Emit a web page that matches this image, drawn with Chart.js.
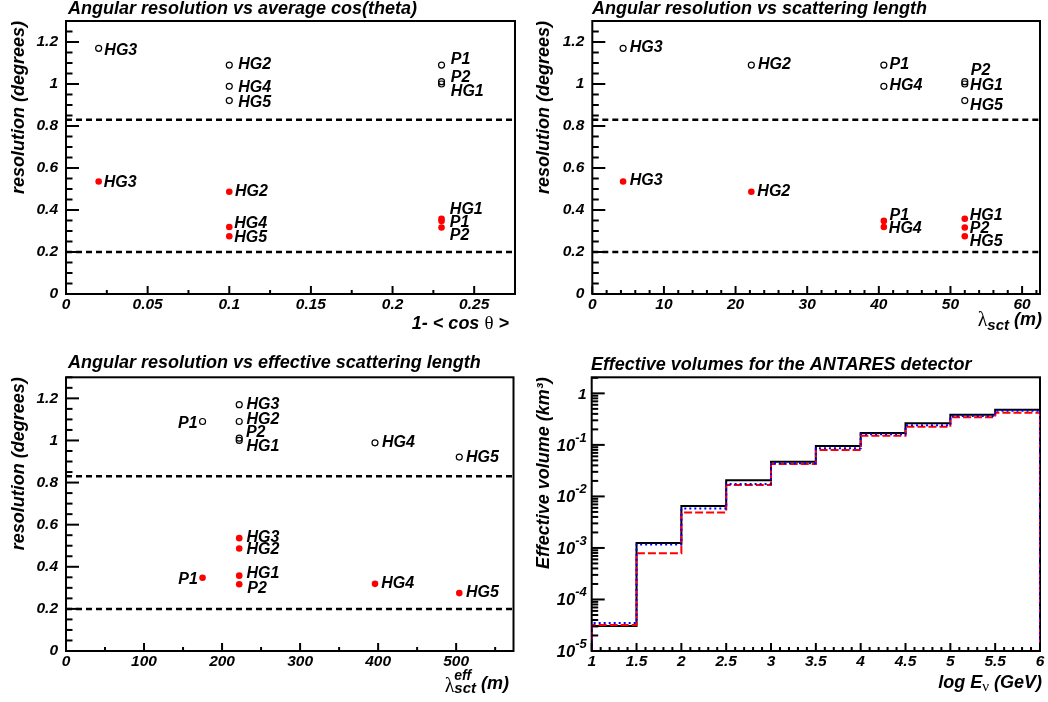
<!DOCTYPE html>
<html>
<head>
<meta charset="utf-8">
<script src="https://cdn.jsdelivr.net/npm/chart.js@4.4.1/dist/chart.umd.min.js"></script>
<style>
  html, body { margin: 0; padding: 0; background: #fff; overflow: hidden; }
  #page { position: relative; width: 1048px; height: 702px; }
  #page canvas { position: absolute; }
</style>
</head>
<body>
<div id="page">
  <canvas id="cosChart" width="524" height="345" style="left:0;top:0"></canvas>
  <canvas id="sctChart" width="524" height="345" style="left:524px;top:0"></canvas>
  <canvas id="effChart" width="524" height="357" style="left:0;top:345px"></canvas>
  <canvas id="volChart" width="524" height="357" style="left:524px;top:345px"></canvas>
</div>
<script>
// ---- data ----
const detectors = ['HG1', 'HG2', 'HG3', 'HG4', 'HG5', 'P1', 'P2']
const resAll = [1.00, 1.09, 1.17, 0.989, 0.921, 1.09, 1.011]      // open circles
const resCut = [0.358, 0.487, 0.536, 0.319, 0.275, 0.348, 0.317]  // red dots
const oneMinusCos = [0.23, 0.10, 0.02, 0.10, 0.10, 0.23, 0.23]
const lambdaSct = [52, 22.2, 4.3, 40.7, 52, 40.7, 52]
const lambdaEff = [222, 222, 222, 396, 504, 175, 222]
const cutLevels = [0.83, 0.2]

const logEEdges = [1, 1.5, 2, 2.5, 3, 3.5, 4, 4.5, 5, 5.5, 6]
const veffBlack = [3.05e-5, 1.25e-3, 6.5e-3, 0.0205, 0.047, 0.095, 0.170, 0.262, 0.385, 0.481]
const veffBlue = [3.5e-5, 1.17e-3, 5.8e-3, 0.0175, 0.044, 0.086, 0.160, 0.240, 0.363, 0.459]
const veffRed = [3.2e-5, 7.9e-4, 4.9e-3, 0.0166, 0.0425, 0.080, 0.151, 0.225, 0.342, 0.421]

const resTicks = [0, 0.2, 0.4, 0.6, 0.8, 1, 1.2]
const cosTicks = [0, 0.05, 0.1, 0.15, 0.2, 0.25]
const sctTicks = [0, 10, 20, 30, 40, 50, 60]
const effTicks = [0, 100, 200, 300, 400, 500]
const logETicks = [1, 1.5, 2, 2.5, 3, 3.5, 4, 4.5, 5, 5.5, 6]
const volTicks = [1e-5, 1e-4, 1e-3, 1e-2, 1e-1, 1]

// ---- label nudges (pixels, relative to the marker) ----
const nudgeCosOpen = [[9.3, 7.2], [9, -0.5], [5.7, 2], [9, 1.2], [9, 1.6], [9.3, -5.5], [9.3, -3.8]]
const nudgeCosRed = [[8.3, -9.4], [5.7, 0], [5, 1.4], [5, -3.6], [5, 1.5], [8.3, 1.2], [8.3, 8]]
const nudgeSctOpen = [[5.3, 1.9], [6.7, -0.5], [6.7, -0.3], [5.7, -0.4], [5.3, 4.6], [5.7, -0.5], [6, -11.5]]
const nudgeSctRed = [[5, -3], [6, 0], [6.7, -1], [5, 1.4], [5, 5.1], [5.7, -5.8], [5, 1]]
const nudgeEffOpen = [[7.3, 6.3], [7.3, -2.4], [7.3, 0.4], [7, -0.4], [6.7, 0.7], [-5, 1.9, 'right'], [6.7, -5.8]]
const nudgeEffRed = [[7.3, -2.3], [7.3, 1.3], [7.3, -0.4], [6.3, 0], [6.7, -0.4], [-4.7, 2, 'right'], [8, 4.1]]

const FONT = '"Liberation Sans", Arial, Helvetica, sans-serif'
const GREEK = '"Liberation Serif", "DejaVu Serif", serif'
const bi = (px) => `italic bold ${px}px ${FONT}`
const gr = (px) => `${px}px ${GREEK}`
const axisFont = (size) => ({ family: FONT, size: size, style: 'italic', weight: 'bold' })

Chart.defaults.font.family = FONT
Chart.defaults.color = '#000'
Chart.defaults.animation = false
Chart.defaults.plugins.legend.display = false
Chart.defaults.plugins.tooltip.enabled = false

function steps(min, max, step, skip) {
  const out = []
  for (let k = Math.ceil(min / step - 1e-9); k * step <= max + 1e-9; k++) {
    const v = +(k * step).toFixed(6)
    if (!skip.some(s => Math.abs(s - v) < 1e-9)) out.push(v)
  }
  return out
}

function logMinors(min, max) {
  const out = []
  for (let e = Math.floor(Math.log10(min)); e <= Math.ceil(Math.log10(max)); e++) {
    for (let m = 2; m <= 9; m++) {
      const v = m * Math.pow(10, e)
      if (v > min && v <= max) out.push(v)
    }
  }
  return out
}

// text made of pieces: [text, font, dy, advance?]
function richText(ctx, parts, x, y, align) {
  let w = 0
  parts.forEach(p => {
    ctx.font = p[1]
    w += p[3] === 0 ? 0 : ctx.measureText(p[0]).width
  })
  let cx = align === 'right' ? x - w : x
  ctx.textAlign = 'left'
  ctx.textBaseline = 'alphabetic'
  parts.forEach(p => {
    ctx.font = p[1]
    ctx.fillText(p[0], cx, y + (p[2] || 0))
    if (p[3] !== 0) cx += ctx.measureText(p[0]).width
  })
}

// ROOT-like pad: frame, inner ticks, title, axis title, marker labels
function padPlugin(cfg) {
  return {
    id: 'rootPad',
    beforeDatasetsDraw(chart) {
      const { ctx, chartArea: a } = chart
      ctx.save()
      ctx.strokeStyle = '#000'
      ctx.lineWidth = 2
      ctx.strokeRect(a.left, a.top, a.right - a.left, a.bottom - a.top)
      ctx.restore()
    },
    afterDatasetsDraw(chart) {
      const { ctx } = chart
      ctx.save()
      ctx.fillStyle = '#000'
      ctx.font = bi(16)
      ctx.textBaseline = 'middle'
      chart.data.datasets.forEach((ds, i) => {
        if (!ds.tags) return
        chart.getDatasetMeta(i).data.forEach((pt, j) => {
          const n = ds.nudge[j]
          ctx.textAlign = n[2] === 'right' ? 'right' : 'left'
          ctx.fillText(ds.tags[j], pt.x + n[0], pt.y + n[1])
        })
      })
      ctx.restore()
    },
    afterDraw(chart) {
      const { ctx, chartArea: a } = chart
      const sx = chart.scales.x
      const sy = chart.scales.y
      ctx.save()
      // inner tick marks
      ctx.strokeStyle = '#000'
      ctx.lineWidth = 2
      const xt = (list, len) => list.forEach(v => {
        const px = sx.getPixelForValue(v)
        ctx.beginPath()
        ctx.moveTo(px, a.bottom)
        ctx.lineTo(px, a.bottom - len)
        ctx.stroke()
      })
      const yt = (list, len) => list.forEach(v => {
        const py = sy.getPixelForValue(v)
        ctx.beginPath()
        ctx.moveTo(a.left, py)
        ctx.lineTo(a.left + len, py)
        ctx.stroke()
      })
      xt(cfg.xMajor, 8)
      xt(cfg.xMinor, 4)
      yt(cfg.yMajor, 13)
      yt(cfg.yMinor, 6.5)

      ctx.fillStyle = '#000'
      ctx.font = bi(18)
      ctx.textAlign = 'left'
      ctx.textBaseline = 'alphabetic'
      ctx.fillText(cfg.title, cfg.titleX, cfg.titleY)
      richText(ctx, cfg.xTitle, cfg.xTitleX, cfg.xTitleY, 'right')
      if (cfg.logLabels) {
        cfg.yMajor.forEach(v => {
          const py = sy.getPixelForValue(v)
          const k = Math.round(Math.log10(v))
          if (k === 0) {
            richText(ctx, [['1', bi(15.5)]], a.left - 5, py + 5.5, 'right')
          } else {
            richText(ctx, [['10', bi(16.5)], [String(k), bi(13), -9]], a.left - 5, py + 6, 'right')
          }
        })
      }
      ctx.restore()
    }
  }
}

function baseScales(cfg) {
  return {
    x: {
      type: 'linear',
      min: cfg.xMin,
      max: cfg.xMax,
      grid: { display: false, drawTicks: false },
      border: { display: false },
      ticks: { font: axisFont(15.5), color: '#000', padding: 1.5, maxRotation: 0, autoSkip: false, callback: v => String(v) },
      afterBuildTicks: s => { s.ticks = cfg.xMajor.map(v => ({ value: v })) },
      afterFit: s => { s.height = 40 }
    },
    y: {
      type: cfg.yType || 'linear',
      min: cfg.yMin,
      max: cfg.yMax,
      grid: { display: false, drawTicks: false },
      border: { display: false },
      ticks: { display: !cfg.logLabels, font: axisFont(15.5), color: '#000', padding: 8, autoSkip: false, callback: v => String(v) },
      title: { display: true, text: cfg.yTitle, align: 'end', color: '#000', font: axisFont(18), padding: { top: cfg.yTitlePad, bottom: 0 } },
      afterBuildTicks: s => { s.ticks = cfg.yMajor.map(v => ({ value: v })) },
      afterFit: s => { s.width = cfg.yWidth }
    }
  }
}

function resolutionChart(canvasId, xs, cfg) {
  const pts = (ys) => xs.map((x, i) => ({ x: x, y: ys[i] }))
  Object.assign(cfg, {
    yMin: 0, yMax: 1.3, yMajor: resTicks, yMinor: steps(0, 1.3, 0.05, resTicks),
    yTitle: 'resolution (degrees)'
  })
  return new Chart(document.getElementById(canvasId), {
    type: 'scatter',
    data: {
      datasets: [
        ...cutLevels.map(c => ({
          data: [{ x: cfg.xMin, y: c }, { x: cfg.xMax, y: c }],
          showLine: true, borderColor: '#000', borderWidth: 2.5, borderDash: [6, 4], pointRadius: 0
        })),
        {
          data: pts(resAll), pointRadius: 3, borderWidth: 1.2, borderColor: '#000',
          backgroundColor: 'rgba(0,0,0,0)', tags: detectors, nudge: cfg.nudgeOpen
        },
        {
          data: pts(resCut), pointRadius: 3.3, borderWidth: 0, backgroundColor: '#ff0000',
          tags: detectors, nudge: cfg.nudgeRed
        }
      ]
    },
    options: {
      responsive: false,
      devicePixelRatio: 1,
      events: [],
      layout: { padding: { left: 0, right: cfg.right, top: cfg.top, bottom: cfg.bottom } },
      scales: baseScales(cfg)
    },
    plugins: [padPlugin(cfg)]
  })
}

resolutionChart('cosChart', oneMinusCos, {
  xMin: 0, xMax: 0.275, xMajor: cosTicks, xMinor: steps(0, 0.275, 0.025, cosTicks),
  yWidth: 66, right: 9, top: 21, bottom: 11, yTitlePad: 8.7,
  title: 'Angular resolution vs average cos(theta)', titleX: 68, titleY: 14,
  xTitle: [['1- < cos ', bi(18)], ['\u03B8', gr(19)], [' >', bi(18)]], xTitleX: 509, xTitleY: 328.5,
  nudgeOpen: nudgeCosOpen, nudgeRed: nudgeCosRed
})

resolutionChart('sctChart', lambdaSct, {
  xMin: 0, xMax: 62.5, xMajor: sctTicks, xMinor: steps(0, 62.5, 2, sctTicks),
  yWidth: 68.3, right: 8, top: 21, bottom: 11, yTitlePad: 9.2,
  title: 'Angular resolution vs scattering length', titleX: 68, titleY: 14,
  xTitle: [['\u03BB', gr(20), 1], ['sct', bi(15), 5], [' (m)', bi(18)]], xTitleX: 518, xTitleY: 325,
  nudgeOpen: nudgeSctOpen, nudgeRed: nudgeSctRed
})

resolutionChart('effChart', lambdaEff, {
  xMin: 0, xMax: 573.5, xMajor: effTicks, xMinor: steps(0, 573.5, 50, effTicks),
  yWidth: 66, right: 10.5, top: 32.3, bottom: 11, yTitlePad: 8.7,
  title: 'Angular resolution vs effective scattering length', titleX: 68, titleY: 22.7,
  xTitle: [['\u03BB', gr(20), 2.5], ['eff', bi(14), -9, 0], ['sct', bi(15), 4], [' (m)', bi(18)]], xTitleX: 509, xTitleY: 344,
  nudgeOpen: nudgeEffOpen, nudgeRed: nudgeEffRed
})

// histogram outline from bin edges, closed down to the axis minimum
function histOutline(vals, floor) {
  const pts = [{ x: logEEdges[0], y: floor }]
  vals.forEach((v, i) => {
    pts.push({ x: logEEdges[i], y: v })
    pts.push({ x: logEEdges[i + 1], y: v })
  })
  pts.push({ x: logEEdges[logEEdges.length - 1], y: floor })
  return pts
}

const volCfg = {
  xMin: 1, xMax: 6, xMajor: logETicks, xMinor: steps(1, 6, 0.1, logETicks),
  yType: 'logarithmic', yMin: 1e-5, yMax: 2.05, yMajor: volTicks, yMinor: logMinors(1e-5, 2.05),
  logLabels: true, yTitle: 'Effective volume (km\u00B3)',
  yWidth: 67.7, right: 8, top: 32.3, bottom: 11, yTitlePad: 9.2,
  title: 'Effective volumes for the ANTARES detector', titleX: 67, titleY: 25,
  xTitle: [['log E', bi(18)], ['\u03BD', gr(15), 3], [' (GeV)', bi(18)]], xTitleX: 518, xTitleY: 343
}

const histLine = { showLine: true, pointRadius: 0, borderWidth: 2, borderJoinStyle: 'miter', borderCapStyle: 'butt' }

new Chart(document.getElementById('volChart'), {
  type: 'scatter',
  data: {
    datasets: [
      Object.assign({ data: histOutline(veffBlack, 1e-5), borderColor: '#000000', order: 3 }, histLine),
      Object.assign({ data: histOutline(veffRed, 1e-5), borderColor: '#ff0000', borderDash: [8, 3], order: 2 }, histLine),
      Object.assign({ data: histOutline(veffBlue, 1e-5), borderColor: '#0000ff', borderDash: [2, 3], order: 1 }, histLine)
    ]
  },
  options: {
    responsive: false,
    devicePixelRatio: 1,
    events: [],
    layout: { padding: { left: 0, right: volCfg.right, top: volCfg.top, bottom: volCfg.bottom } },
    scales: baseScales(volCfg)
  },
  plugins: [padPlugin(volCfg)]
})
</script>
</body>
</html>
